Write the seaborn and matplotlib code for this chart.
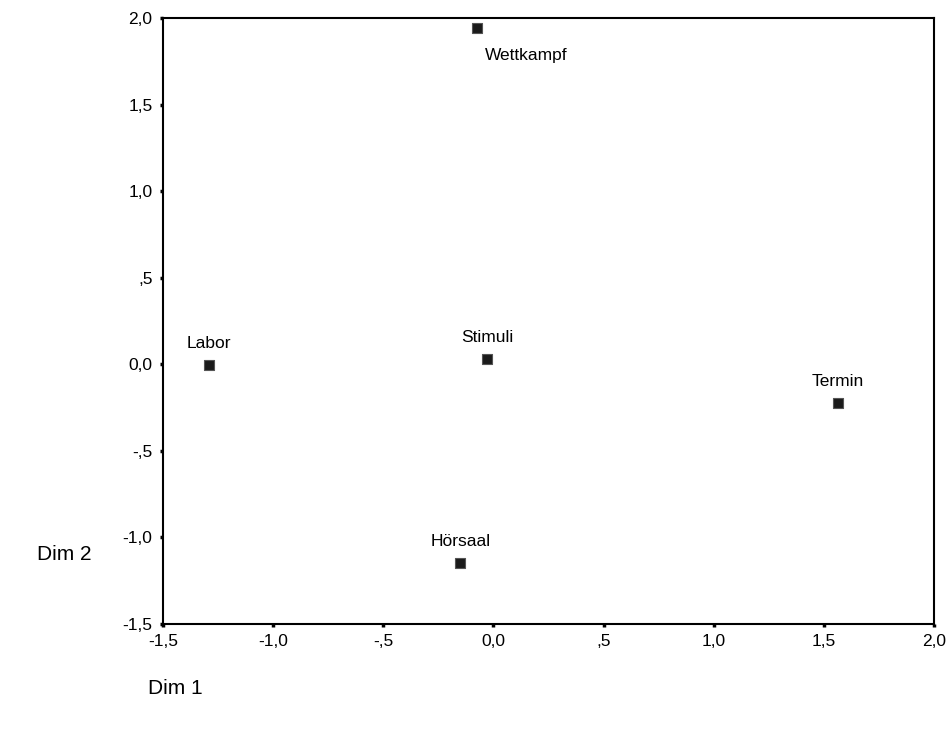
import matplotlib
matplotlib.use("Agg")
import matplotlib.pyplot as plt
import seaborn as sns
import pandas as pd
from matplotlib.ticker import FuncFormatter, MultipleLocator

labels = ["Wettkampf", "Labor", "Stimuli", "Termin", "Hörsaal"]
dim1 = [-0.075, -1.29, -0.03, 1.565, -0.15]
dim2 = [1.94, -0.005, 0.03, -0.225, -1.145]

df = pd.DataFrame({"label": labels, "Dim 1": dim1, "Dim 2": dim2})

sns.set_style("white")
plt.rcParams["font.family"] = ["Liberation Sans", "DejaVu Sans"]
plt.rcParams["text.color"] = "black"
plt.rcParams["xtick.color"] = "black"
plt.rcParams["ytick.color"] = "black"
plt.rcParams["xtick.labelcolor"] = "black"
plt.rcParams["ytick.labelcolor"] = "black"

fig = plt.figure(figsize=(9.49, 7.31), dpi=100)
ax = fig.add_axes([0.1718, 0.1464, 0.8124, 0.829])

sns.scatterplot(data=df, x="Dim 1", y="Dim 2", ax=ax, marker="s", s=50,
                color="#1a1a1a", edgecolor="#555555", linewidth=0.8, legend=False)

for lab, x, y in zip(labels, dim1, dim2):
    if lab == "Wettkampf":
        ax.annotate(lab, (x, y), xytext=(6, -14), textcoords="offset points",
                    ha="left", va="top", fontsize=12.5, color="black")
    else:
        ax.annotate(lab, (x, y), xytext=(0, 10), textcoords="offset points",
                    ha="center", va="bottom", fontsize=12.5, color="black")

ax.set_xlim(-1.5, 2.0)
ax.set_ylim(-1.5, 2.0)
ax.xaxis.set_major_locator(MultipleLocator(0.5))
ax.yaxis.set_major_locator(MultipleLocator(0.5))

def fmt(v, pos):
    if abs(v) < 1e-9:
        return "0,0"
    s = f"{v:.1f}".replace(".", ",")
    if s.startswith("0,"):
        s = s[1:]
    elif s.startswith("-0,"):
        s = "-" + s[2:]
    return s

ax.xaxis.set_major_formatter(FuncFormatter(fmt))
ax.yaxis.set_major_formatter(FuncFormatter(fmt))
ax.tick_params(axis="both", direction="out", length=2.5, width=2.5, labelsize=12.5,
               color="black", labelcolor="black", pad=5, bottom=True, left=True)
for sp in ax.spines.values():
    sp.set_linewidth(1.5)
    sp.set_color("black")

ax.set_xlabel("")
ax.set_ylabel("")
fig.text(148 / 949, 1 - 688 / 731, "Dim 1", fontsize=15, ha="left", va="center", color="black")
fig.text(37 / 949, 1 - 555 / 731, "Dim 2", fontsize=15, ha="left", va="center", color="black")

fig.savefig("out.png", dpi=100)
